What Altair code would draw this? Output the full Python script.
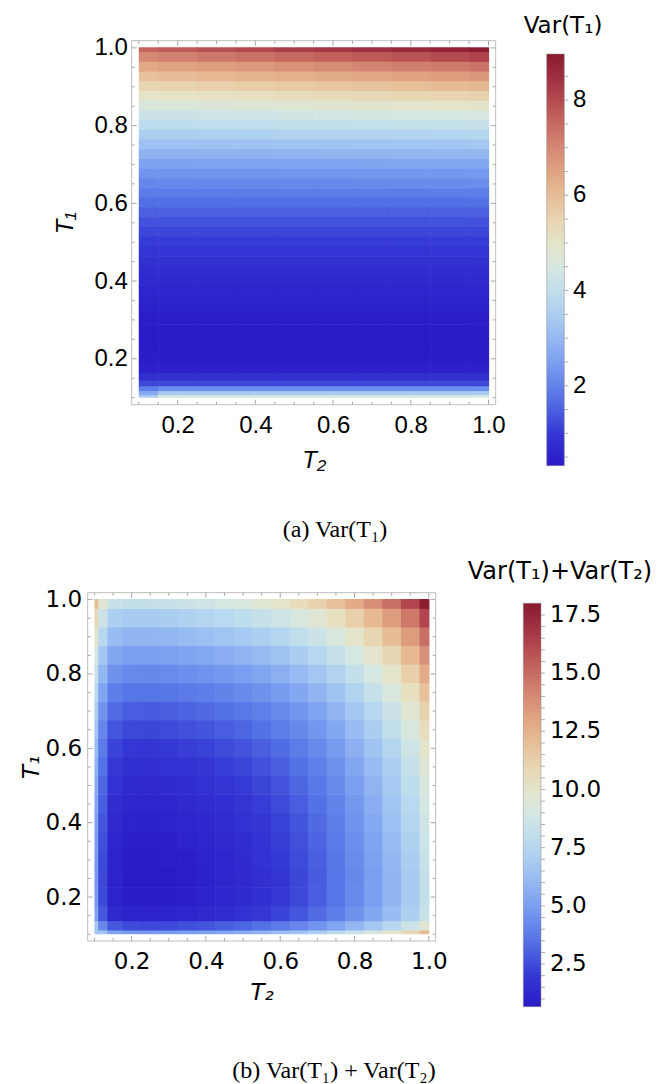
import altair as alt
import pandas as pd

# ---------------- data ----------------
# (a) Var(T1): rows are T1 values, columns are T2 values
TOP_T2 = [0.1, 0.2, 0.3, 0.4, 0.5, 0.6, 0.7, 0.8, 0.9, 1.0]
TOP_T1 = [1.0, 0.975, 0.95, 0.925, 0.9, 0.875, 0.85, 0.825, 0.8, 0.775, 0.75, 0.725,
          0.7, 0.675, 0.65, 0.625, 0.6, 0.575, 0.55, 0.525, 0.5, 0.475, 0.45, 0.425,
          0.4, 0.375, 0.35, 0.325, 0.3, 0.275, 0.25, 0.225, 0.2, 0.175, 0.15, 0.135,
          0.12, 0.11, 0.1]
VAR_T1 = [
    [7.60, 7.75, 7.90, 8.05, 8.20, 8.35, 8.50, 8.65, 8.80, 8.95],
    [7.00, 7.13, 7.26, 7.38, 7.51, 7.64, 7.77, 7.89, 8.02, 8.15],
    [6.40, 6.51, 6.61, 6.72, 6.82, 6.93, 7.03, 7.14, 7.24, 7.35],
    [5.90, 5.99, 6.08, 6.17, 6.26, 6.34, 6.43, 6.52, 6.61, 6.70],
    [5.45, 5.52, 5.59, 5.67, 5.74, 5.81, 5.88, 5.96, 6.03, 6.10],
    [5.00, 5.06, 5.12, 5.18, 5.24, 5.31, 5.37, 5.43, 5.49, 5.55],
    [4.60, 4.65, 4.70, 4.75, 4.80, 4.85, 4.90, 4.95, 5.00, 5.05],
    [4.20, 4.24, 4.28, 4.32, 4.36, 4.39, 4.43, 4.47, 4.51, 4.55],
    [3.85, 3.88, 3.91, 3.93, 3.96, 3.99, 4.02, 4.04, 4.07, 4.10],
    [3.50, 3.52, 3.54, 3.57, 3.59, 3.61, 3.63, 3.66, 3.68, 3.70],
    [3.15, 3.17, 3.18, 3.20, 3.22, 3.23, 3.25, 3.27, 3.28, 3.30],
    [2.85, 2.86, 2.88, 2.89, 2.90, 2.92, 2.93, 2.94, 2.96, 2.97],
    [2.55, 2.56, 2.57, 2.58, 2.59, 2.61, 2.62, 2.63, 2.64, 2.65],
    [2.28, 2.29, 2.30, 2.31, 2.32, 2.34, 2.35, 2.36, 2.37, 2.38],
    [2.05, 2.06, 2.07, 2.08, 2.09, 2.11, 2.12, 2.13, 2.14, 2.15],
    [1.84, 1.84, 1.85, 1.85, 1.86, 1.86, 1.87, 1.87, 1.88, 1.88],
    [1.65, 1.65, 1.65, 1.66, 1.66, 1.66, 1.67, 1.67, 1.67, 1.68],
    [1.48, 1.48, 1.48, 1.48, 1.48, 1.48, 1.48, 1.48, 1.48, 1.48],
    [1.32, 1.32, 1.32, 1.32, 1.32, 1.32, 1.32, 1.32, 1.32, 1.32],
    [1.18, 1.18, 1.18, 1.18, 1.18, 1.18, 1.18, 1.18, 1.18, 1.18],
    [1.05, 1.05, 1.05, 1.05, 1.05, 1.05, 1.05, 1.05, 1.05, 1.05],
    [0.93, 0.93, 0.93, 0.93, 0.93, 0.93, 0.93, 0.93, 0.93, 0.93],
    [0.83, 0.83, 0.83, 0.83, 0.83, 0.83, 0.83, 0.83, 0.83, 0.83],
    [0.74, 0.74, 0.74, 0.74, 0.74, 0.74, 0.74, 0.74, 0.74, 0.74],
    [0.66, 0.66, 0.66, 0.66, 0.66, 0.66, 0.66, 0.66, 0.66, 0.66],
    [0.58, 0.58, 0.58, 0.58, 0.58, 0.58, 0.58, 0.58, 0.58, 0.58],
    [0.52, 0.52, 0.52, 0.52, 0.52, 0.52, 0.52, 0.52, 0.52, 0.52],
    [0.45, 0.45, 0.45, 0.45, 0.45, 0.45, 0.45, 0.45, 0.45, 0.45],
    [0.40, 0.40, 0.40, 0.40, 0.40, 0.40, 0.40, 0.40, 0.40, 0.40],
    [0.36, 0.36, 0.36, 0.36, 0.36, 0.36, 0.36, 0.36, 0.36, 0.36],
    [0.33, 0.33, 0.33, 0.33, 0.33, 0.33, 0.33, 0.33, 0.33, 0.33],
    [0.34, 0.34, 0.34, 0.34, 0.34, 0.34, 0.34, 0.34, 0.34, 0.34],
    [0.37, 0.37, 0.37, 0.37, 0.37, 0.37, 0.37, 0.37, 0.37, 0.37],
    [0.48, 0.48, 0.48, 0.48, 0.48, 0.48, 0.48, 0.48, 0.48, 0.48],
    [0.80, 0.80, 0.80, 0.80, 0.80, 0.80, 0.80, 0.80, 0.80, 0.80],
    [1.20, 1.20, 1.20, 1.20, 1.20, 1.20, 1.20, 1.20, 1.20, 1.20],
    [1.90, 2.20, 2.20, 2.20, 2.20, 2.20, 2.20, 2.20, 2.20, 2.20],
    [2.70, 3.40, 3.40, 3.40, 3.40, 3.40, 3.40, 3.40, 3.40, 3.40],
    [3.40, 4.50, 4.50, 4.50, 4.50, 4.50, 4.50, 4.50, 4.50, 4.50],
]

# (b) Var(T1)+Var(T2): rows are T1 values (ascending), columns are T2 values
SUM_GRID = [0.1, 0.12, 0.15, 0.2, 0.25, 0.3, 0.35, 0.4, 0.45, 0.5,
            0.55, 0.6, 0.65, 0.7, 0.75, 0.8, 0.85, 0.9, 0.95, 1.0]
VAR_SUM = [
    [6.60, 6.60, 5.20, 4.87, 4.83, 4.90, 5.02, 5.16, 5.33, 5.55, 5.82, 6.15, 6.55, 7.05, 7.65, 8.35, 9.10, 9.95, 10.90, 12.10],
    [6.60, 4.20, 2.80, 2.47, 2.43, 2.50, 2.62, 2.76, 2.93, 3.15, 3.42, 3.75, 4.15, 4.65, 5.25, 5.96, 6.71, 7.56, 8.52, 9.73],
    [5.20, 2.80, 1.40, 1.07, 1.03, 1.10, 1.22, 1.36, 1.53, 1.75, 2.02, 2.35, 2.76, 3.26, 3.86, 4.56, 5.33, 6.19, 7.15, 8.38],
    [4.87, 2.47, 1.07, 0.74, 0.70, 0.77, 0.89, 1.03, 1.20, 1.42, 1.69, 2.02, 2.43, 2.93, 3.54, 4.25, 5.02, 5.89, 6.88, 8.12],
    [4.83, 2.43, 1.03, 0.70, 0.66, 0.73, 0.85, 0.99, 1.16, 1.38, 1.65, 1.98, 2.40, 2.90, 3.51, 4.22, 5.01, 5.89, 6.89, 8.16],
    [4.90, 2.50, 1.10, 0.77, 0.73, 0.80, 0.92, 1.06, 1.23, 1.45, 1.72, 2.05, 2.47, 2.97, 3.58, 4.31, 5.10, 5.99, 7.01, 8.30],
    [5.02, 2.62, 1.22, 0.89, 0.85, 0.92, 1.04, 1.18, 1.35, 1.57, 1.84, 2.17, 2.60, 3.10, 3.71, 4.44, 5.24, 6.15, 7.18, 8.50],
    [5.16, 2.76, 1.36, 1.03, 0.99, 1.06, 1.18, 1.32, 1.49, 1.71, 1.98, 2.31, 2.74, 3.24, 3.86, 4.59, 5.41, 6.33, 7.38, 8.71],
    [5.33, 2.93, 1.53, 1.20, 1.16, 1.23, 1.35, 1.49, 1.66, 1.88, 2.15, 2.48, 2.92, 3.42, 4.04, 4.78, 5.63, 6.53, 7.60, 8.96],
    [5.55, 3.15, 1.75, 1.42, 1.38, 1.45, 1.57, 1.71, 1.88, 2.10, 2.37, 2.70, 3.14, 3.64, 4.27, 5.01, 5.85, 6.79, 7.87, 9.25],
    [5.82, 3.42, 2.02, 1.69, 1.65, 1.72, 1.84, 1.98, 2.15, 2.37, 2.64, 2.97, 3.42, 3.92, 4.55, 5.30, 6.15, 7.10, 8.20, 9.60],
    [6.15, 3.75, 2.35, 2.02, 1.98, 2.05, 2.17, 2.31, 2.48, 2.70, 2.97, 3.30, 3.76, 4.26, 4.89, 5.64, 6.50, 7.46, 8.58, 10.00],
    [6.55, 4.15, 2.76, 2.43, 2.40, 2.47, 2.60, 2.74, 2.92, 3.14, 3.42, 3.76, 4.22, 4.73, 5.36, 6.13, 7.00, 7.99, 9.12, 10.57],
    [7.05, 4.65, 3.26, 2.93, 2.90, 2.97, 3.10, 3.24, 3.42, 3.64, 3.92, 4.26, 4.73, 5.23, 5.87, 6.65, 7.53, 8.52, 9.67, 11.15],
    [7.65, 5.25, 3.86, 3.54, 3.51, 3.58, 3.71, 3.86, 4.04, 4.27, 4.55, 4.88, 5.36, 5.87, 6.52, 7.30, 8.21, 9.20, 10.38, 11.88],
    [8.35, 5.96, 4.56, 4.25, 4.22, 4.31, 4.44, 4.59, 4.78, 5.01, 5.30, 5.64, 6.13, 6.65, 7.30, 8.08, 9.01, 10.03, 11.23, 12.75],
    [9.10, 6.71, 5.33, 5.02, 5.01, 5.10, 5.25, 5.41, 5.61, 5.85, 6.15, 6.50, 7.01, 7.53, 8.21, 9.01, 9.96, 10.99, 12.22, 13.78],
    [9.95, 7.56, 6.19, 5.89, 5.89, 5.99, 6.15, 6.33, 6.53, 6.79, 7.10, 7.46, 7.99, 8.52, 9.20, 10.03, 10.99, 12.06, 13.31, 14.90],
    [10.90, 8.52, 7.15, 6.88, 6.89, 7.01, 7.18, 7.38, 7.60, 7.87, 8.20, 8.58, 9.12, 9.67, 10.38, 11.23, 12.22, 13.30, 14.60, 16.23],
    [12.10, 9.73, 8.38, 8.12, 8.16, 8.30, 8.50, 8.71, 8.96, 9.25, 9.60, 10.00, 10.58, 11.15, 11.88, 12.75, 13.78, 14.90, 16.23, 17.90],
]

TOP_VALUE_RANGE = [0.32, 8.97]
BOT_VALUE_RANGE = [0.67, 18.0]
TOP_LEGEND_LABELS = [2, 4, 6, 8]
BOT_LEGEND_LABELS = [2.5, 5.0, 7.5, 10.0, 12.5, 15.0, 17.5]
TOP_BAR_TICKS = [0.5, 1.0, 1.5, 2.0, 2.5, 3.0, 3.5, 4.0, 4.5, 5.0, 5.5, 6.0, 6.5, 7.0, 7.5, 8.0, 8.5]
BOT_BAR_TICKS = [1.0, 1.5, 2.0, 2.5, 3.0, 3.5, 4.0, 4.5, 5.0, 5.5, 6.0, 6.5, 7.0, 7.5, 8.0, 8.5,
                 9.0, 9.5, 10.0, 10.5, 11.0, 11.5, 12.0, 12.5, 13.0, 13.5, 14.0, 14.5, 15.0,
                 15.5, 16.0, 16.5, 17.0, 17.5]
MAJOR_TICKS = [0.2, 0.4, 0.6, 0.8, 1.0]
MINOR_TICKS = [0.1, 0.15, 0.25, 0.3, 0.35, 0.45, 0.5, 0.55, 0.65, 0.7, 0.75, 0.85, 0.9, 0.95]
FRAME = [0.0818, 1.0185]

TITLE_A = "Var(T\u2081)"
TITLE_B = "Var(T\u2081)+Var(T\u2082)"
CAPTION_A = "(a) Var(T\u2081)"
CAPTION_B = "(b) Var(T\u2081) + Var(T\u2082)"

# colour map (thermometer-like), stop positions and colours
STOP_POS = [0.0, 0.08, 0.16, 0.25, 0.33, 0.41, 0.48, 0.55, 0.62, 0.70, 0.78, 0.86, 0.93, 1.0]
PALETTE = ["#2a1ac8", "#3438d4", "#5473e6", "#7b9ef0", "#9dc2f2", "#bcdcee", "#d5e7e1",
           "#e6e3c6", "#e9cda6", "#e3aa86", "#d48471", "#be5a57", "#a53445", "#8a1a2e"]

FRAME_GRAY = "#bdbdbd"
TICK_GRAY = "#a8a8a8"


def cell_bounds(points):
    s = sorted(points)
    out = {}
    for k, p in enumerate(s):
        lo = s[0] if k == 0 else (s[k - 1] + p) / 2
        hi = s[-1] if k == len(s) - 1 else (p + s[k + 1]) / 2
        out[p] = (lo, hi)
    return out


def cells(rows, cols, grid):
    rb = cell_bounds(rows)
    cb = cell_bounds(cols)
    recs = []
    for t1, row in zip(rows, grid):
        for t2, v in zip(cols, row):
            recs.append(dict(x=cb[t2][0], x2=cb[t2][1], y=rb[t1][0], y2=rb[t1][1], v=v))
    return pd.DataFrame(recs)


def panel(df, xr, yr, font, fsize, vrange, legend_kw, xaxis_kw, yaxis_kw):
    xs = alt.Scale(domain=FRAME, range=xr, nice=False, zero=False)
    ys = alt.Scale(domain=FRAME, range=yr, nice=False, zero=False)
    stops = [vrange[0] + f * (vrange[1] - vrange[0]) for f in STOP_POS]
    cs = alt.Scale(domain=stops, range=PALETTE, interpolate="rgb")

    common_axis = dict(ticks=False, tickSize=0, domain=False, grid=False,
                       labelFont=font, labelFontSize=fsize, labelColor="black",
                       labelFlush=False, labelOverlap=False, format=".1f",
                       values=MAJOR_TICKS, titleFont=font, titleFontSize=fsize,
                       titleFontStyle="italic", titleFontWeight="normal",
                       titleColor="black", titleAlign="center", titleBaseline="middle")
    xaxis = alt.Axis(**common_axis, **xaxis_kw)
    yaxis = alt.Axis(**common_axis, **yaxis_kw)

    # cells overlap by half a pixel so that no hairline seams show between them
    heat = alt.Chart(df).mark_rect(x2Offset=0.6, y2Offset=-0.6).encode(
        x=alt.X("x:Q", scale=xs, axis=xaxis),
        x2="x2:Q",
        y=alt.Y("y:Q", scale=ys, axis=yaxis),
        y2="y2:Q",
        color=alt.Color("v:Q", scale=cs, legend=alt.Legend(type="gradient", title=None, **legend_kw)),
    )

    fdf = pd.DataFrame({"x": [FRAME[0]], "x2": [FRAME[1]], "y": [FRAME[0]], "y2": [FRAME[1]]})
    frame = alt.Chart(fdf).mark_rect(fillOpacity=0, stroke=FRAME_GRAY, strokeWidth=1).encode(
        x=alt.X("x:Q", scale=xs, axis=xaxis), x2="x2:Q",
        y=alt.Y("y:Q", scale=ys, axis=yaxis), y2="y2:Q",
    )

    layers = [heat, frame]
    for vals, ln in ((MAJOR_TICKS, 5), (MINOR_TICKS, 3)):
        # ticks on bottom / top edges
        for edge, off in ((FRAME[0], -ln), (FRAME[1], ln)):
            tdf = pd.DataFrame({"x": vals, "y": [edge] * len(vals)})
            layers.append(alt.Chart(tdf).mark_rule(color=TICK_GRAY, strokeWidth=1, y2Offset=off).encode(
                x=alt.X("x:Q", scale=xs, axis=xaxis),
                y=alt.Y("y:Q", scale=ys, axis=yaxis), y2="y:Q"))
        # ticks on left / right edges
        for edge, off in ((FRAME[0], ln), (FRAME[1], -ln)):
            tdf = pd.DataFrame({"y": vals, "x": [edge] * len(vals)})
            layers.append(alt.Chart(tdf).mark_rule(color=TICK_GRAY, strokeWidth=1, x2Offset=off).encode(
                y=alt.Y("y:Q", scale=ys, axis=yaxis),
                x=alt.X("x:Q", scale=xs, axis=xaxis), x2="x:Q"))
    return alt.layer(*layers)


def bar_ticks(vals, vrange, y_px, x_px):
    # small tick marks on the right edge of a colour bar, placed by a value scale
    return alt.Chart(pd.DataFrame({"v": vals})).mark_rule(color="#b0b0b0", strokeWidth=1).encode(
        y=alt.Y("v:Q", scale=alt.Scale(domain=vrange, range=y_px, nice=False, zero=False), axis=None),
        x=alt.value(x_px[0]), x2=alt.value(x_px[1]),
    )


def label(text, x, y, font, size, style="normal"):
    return alt.Chart(pd.DataFrame({"t": [text]})).mark_text(
        font=font, fontSize=size, fontStyle=style, align="center", baseline="middle", color="black"
    ).encode(text="t:N", x=alt.value(x), y=alt.value(y))


W, H = 669, 1084
FONT_A = "Liberation Sans, Arial, DejaVu Sans"
FONT_B = "DejaVu Sans"
SERIF = "Liberation Serif, DejaVu Serif"

top_df = cells(TOP_T1, TOP_T2, VAR_T1)
bot_df = cells(SUM_GRID, SUM_GRID, VAR_SUM)

panel_a = panel(
    top_df, [131.7, 495.7], [404.7, 40.7], FONT_A, 24, TOP_VALUE_RANGE,
    legend_kw=dict(orient="none", legendX=546.7, legendY=54, direction="vertical",
                   gradientLength=411.7, gradientThickness=17.6, padding=0,
                   values=TOP_LEGEND_LABELS, format="d", labelFont=FONT_A, labelFontSize=24,
                   labelColor="black", labelOffset=8.7, labelOverlap=False,
                   gradientStrokeColor="#8a8a8a", gradientStrokeWidth=0.5),
    xaxis_kw=dict(orient="bottom", offset=404.7 - H, labelPadding=8.5, title="T\u2082",
                  titleX=313.7, titleY=56),
    yaxis_kw=dict(orient="left", offset=-131.7, labelPadding=4.4, title="T\u2081",
                  titleX=-66.7, titleY=222.7, titleAngle=270),
)

panel_b = panel(
    bot_df, [87.7, 435.7], [941.0, 592.7], FONT_B, 23, BOT_VALUE_RANGE,
    legend_kw=dict(orient="none", legendX=523.3, legendY=603.3, direction="vertical",
                   gradientLength=403.4, gradientThickness=17.7, padding=0,
                   values=BOT_LEGEND_LABELS, format=".1f", labelFont=FONT_B, labelFontSize=23,
                   labelColor="black", labelOffset=9, labelOverlap=False,
                   gradientStrokeColor="#8a8a8a", gradientStrokeWidth=0.5),
    xaxis_kw=dict(orient="bottom", offset=941.0 - H, labelPadding=9, title="T\u2082",
                  titleX=261.7, titleY=51),
    yaxis_kw=dict(orient="left", offset=-87.7, labelPadding=6, title="T\u2081",
                  titleX=-55.7, titleY=766.8, titleAngle=270),
)

extras = [
    bar_ticks(TOP_BAR_TICKS, TOP_VALUE_RANGE, [465.7, 54.0], [564.3, 568.3]),
    bar_ticks(BOT_BAR_TICKS, BOT_VALUE_RANGE, [1006.7, 603.3], [541.0, 545.0]),
    label(TITLE_A, 563, 26, FONT_B, 23),
    label(TITLE_B, 560, 572, FONT_B, 24),
    label(CAPTION_A, 335, 530, SERIF, 24),
    label(CAPTION_B, 334, 1071, SERIF, 24),
]

chart = alt.layer(panel_a, panel_b, *extras).resolve_scale(
    x="independent", y="independent", color="independent"
).resolve_axis(x="independent", y="independent").resolve_legend(color="independent").properties(
    width=W, height=H, padding=0, autosize=alt.AutoSizeParams(type="none"),
    background="white",
).configure_view(strokeWidth=0)

chart.save("out.html", embed_options={"renderer": "svg", "actions": False})
